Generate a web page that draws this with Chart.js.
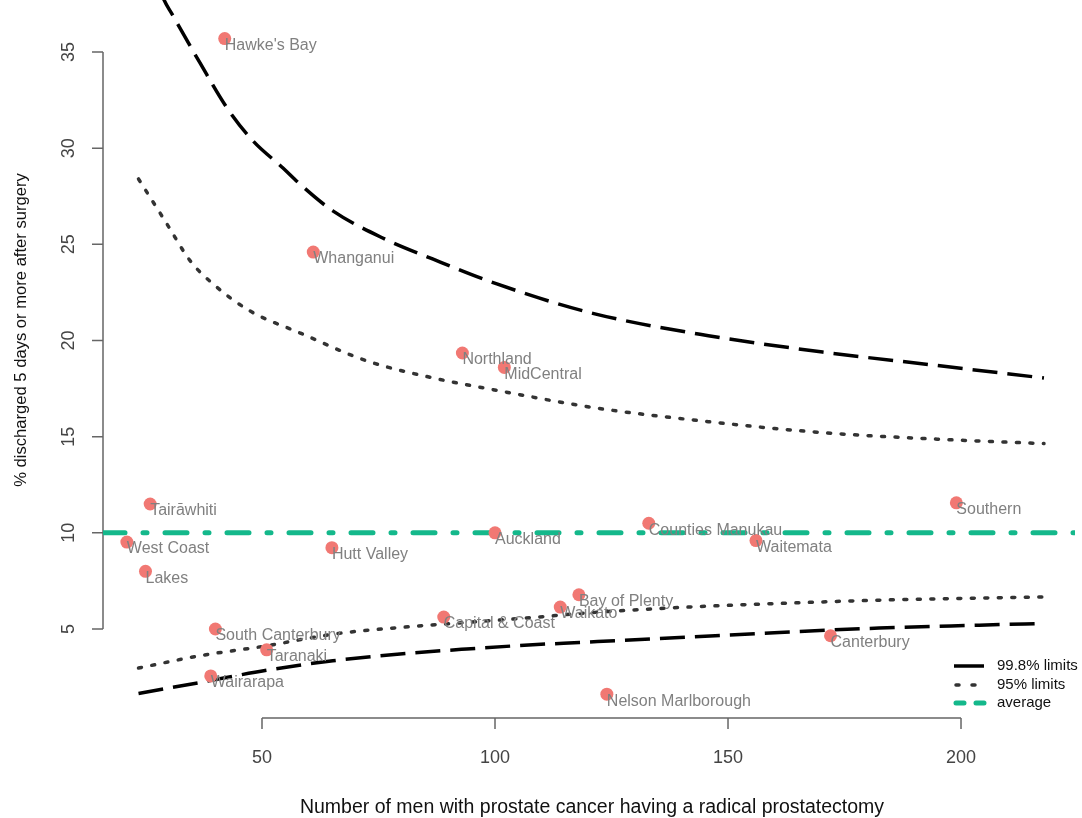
<!DOCTYPE html>
<html>
<head>
<meta charset="utf-8">
<script src="https://cdn.jsdelivr.net/npm/chart.js@4.4.0/dist/chart.umd.min.js"></script>
<style>
html,body{margin:0;padding:0;background:#ffffff;}
#wrap{width:1082px;height:818px;position:relative;}
</style>
</head>
<body>
<div id="wrap"><canvas id="c" width="1082" height="818"></canvas></div>
<script>
// ---- data ----
const regionNames = ["Hawke's Bay","Whanganui","Northland","MidCentral","Tairāwhiti","West Coast","Lakes","Hutt Valley","Auckland","Counties Manukau","Waitemata","Southern","Bay of Plenty","Waikato","Capital & Coast","South Canterbury","Taranaki","Wairarapa","Canterbury","Nelson Marlborough"];
const menCounts = [42, 61, 93, 102, 26, 21, 25, 65, 100, 133, 156, 199, 118, 114, 89, 40, 51, 39, 172, 124];
const pctDischarged = [35.7, 24.6, 19.35, 18.6, 11.5, 9.52, 8.0, 9.23, 10.0, 10.5, 9.6, 11.56, 6.78, 6.14, 5.62, 5.0, 3.92, 2.56, 4.65, 1.61];

const averagePct = 10;

const upper998X = [23.5, 29.0, 30.7, 36.7, 42.5, 48.1, 54.5, 58.1, 65.2, 75.9, 86.6, 100.4, 121.2, 145.8, 170.3, 194.9, 217.8];
const upper998Y = [41.5, 37.7, 36.97, 34.43, 32.09, 30.37, 28.97, 28.14, 26.74, 25.33, 24.24, 22.94, 21.4, 20.25, 19.4, 18.7, 18.05];

const upper95X = [23.5, 29.6, 34.6, 39.5, 47.4, 58.1, 72.5, 86.6, 101, 121.2, 145.8, 170.3, 194.9, 217.8];
const upper95Y = [28.4, 26.06, 24.14, 22.94, 21.54, 20.4, 18.94, 18.06, 17.38, 16.51, 15.78, 15.21, 14.87, 14.64];

const lower95X = [23.5, 36.7, 51.1, 65.2, 79.6, 93.9, 108.1, 120.0, 139.6, 161, 182.4, 203.9, 217.8];
const lower95Y = [2.97, 3.61, 4.13, 4.73, 5.08, 5.34, 5.60, 5.84, 6.12, 6.33, 6.50, 6.61, 6.67];

const lower998X = [23.5, 36.7, 51.1, 65.2, 79.6, 93.9, 108.1, 118.1, 139.6, 161, 182.4, 203.9, 217.8];
const lower998Y = [1.65, 2.22, 2.86, 3.35, 3.70, 3.96, 4.18, 4.30, 4.56, 4.82, 5.05, 5.20, 5.29];

const xTicks = [50, 100, 150, 200];
const yTicks = [5, 10, 15, 20, 25, 30, 35];

const xTitle = "Number of men with prostate cancer having a radical prostatectomy";
const yTitle = "% discharged 5 days or more after surgery";
const legendLabels = ["99.8% limits", "95% limits", "average"];

// ---- build ----
const X_MIN = 15.88, X_MAX = 224.46, Y_MIN = 0.373, Y_MAX = 37.704;
const zip = (xs, ys) => xs.map((x, i) => ({x: x, y: ys[i]}));

const DASH_998 = [25, 10];
const DASH_95 = [3, 10.5];
const DASH_AVG = [22, 18, 4, 18];

function lineDs(label, data, dash, width, color, cap) {
  return {
    type: 'line', label: label, data: data, showLine: true,
    borderColor: color, borderWidth: width, borderDash: dash,
    borderCapStyle: cap, pointRadius: 0, pointHoverRadius: 0, fill: false, tension: 0.4,
    cubicInterpolationMode: 'monotone', clip: 0, order: 2
  };
}

const datasets = [
  {
    type: 'scatter', label: 'regions',
    data: zip(menCounts, pctDischarged),
    pointRadius: 6.5, pointHoverRadius: 6.5, pointBackgroundColor: '#F17873', pointBorderWidth: 0,
    pointBorderColor: '#F17873', order: 0
  },
  lineDs('99.8% upper', zip(upper998X, upper998Y), DASH_998, 3.5, '#000000', 'butt'),
  lineDs('99.8% lower', zip(lower998X, lower998Y), DASH_998, 3.5, '#000000', 'butt'),
  lineDs('95% upper', zip(upper95X, upper95Y), DASH_95, 3.5, '#333333', 'round'),
  lineDs('95% lower', zip(lower95X, lower95Y), DASH_95, 3.5, '#333333', 'round'),
  lineDs('average', [{x: X_MIN, y: averagePct}, {x: X_MAX, y: averagePct}], DASH_AVG, 5, '#14B88B', 'round')
];

const FONT = 'Arial, "Liberation Sans", sans-serif';

const rAxes = {
  id: 'rAxes',
  beforeDatasetsDraw(chart) {
    const ctx = chart.ctx, xs = chart.scales.x, ys = chart.scales.y, ca = chart.chartArea;
    ctx.save();
    ctx.strokeStyle = '#666666';
    ctx.lineWidth = 1.5;
    // x axis
    const axY = ca.bottom;
    ctx.beginPath();
    ctx.moveTo(xs.getPixelForValue(xTicks[0]), axY);
    ctx.lineTo(xs.getPixelForValue(xTicks[xTicks.length - 1]), axY);
    xTicks.forEach(t => { const px = xs.getPixelForValue(t); ctx.moveTo(px, axY); ctx.lineTo(px, axY + 11); });
    ctx.stroke();
    // y axis
    const axX = ca.left;
    ctx.beginPath();
    ctx.moveTo(axX, ys.getPixelForValue(yTicks[0]));
    ctx.lineTo(axX, ys.getPixelForValue(yTicks[yTicks.length - 1]));
    yTicks.forEach(t => { const py = ys.getPixelForValue(t); ctx.moveTo(axX, py); ctx.lineTo(axX - 11, py); });
    ctx.stroke();
    // tick labels
    ctx.fillStyle = '#444444';
    ctx.font = '18px ' + FONT;
    ctx.textAlign = 'center';
    ctx.textBaseline = 'middle';
    xTicks.forEach(t => ctx.fillText(String(t), xs.getPixelForValue(t), 758));
    yTicks.forEach(t => {
      ctx.save();
      ctx.translate(69, ys.getPixelForValue(t));
      ctx.rotate(-Math.PI / 2);
      ctx.fillText(String(t), 0, 0);
      ctx.restore();
    });
    // titles
    ctx.fillStyle = '#111111';
    ctx.font = '19.5px ' + FONT;
    ctx.textBaseline = 'alphabetic';
    ctx.fillText(xTitle, 592, 813);
    ctx.save();
    ctx.font = '16.6px ' + FONT;
    ctx.translate(26, 330);
    ctx.rotate(-Math.PI / 2);
    ctx.textBaseline = 'alphabetic';
    ctx.fillText(yTitle, 0, 0);
    ctx.restore();
    ctx.restore();
  },
  afterDatasetsDraw(chart) {
    const ctx = chart.ctx;
    const meta = chart.getDatasetMeta(0);
    ctx.save();
    ctx.fillStyle = '#808080';
    ctx.font = '16px ' + FONT;
    ctx.textAlign = 'left';
    ctx.textBaseline = 'middle';
    meta.data.forEach((pt, i) => {
      ctx.fillText(regionNames[i], pt.x, pt.y + 7);
    });
    // legend
    const rows = [
      {w: 3.5, c: '#000000', cap: 'butt', dash: []},
      {w: 3.5, c: '#333333', cap: 'round', dash: [3, 13]},
      {w: 5, c: '#14B88B', cap: 'round', dash: [8, 12]}
    ];
    const rowY = [666, 685, 703];
    rows.forEach((r, i) => {
      ctx.beginPath();
      ctx.lineWidth = r.w;
      ctx.strokeStyle = r.c;
      ctx.lineCap = r.cap;
      ctx.setLineDash(r.dash);
      ctx.moveTo(i === 0 ? 954 : 956, rowY[i]);
      ctx.lineTo(984, rowY[i]);
      ctx.stroke();
    });
    ctx.setLineDash([]);
    ctx.fillStyle = '#111111';
    ctx.font = '15px ' + FONT;
    legendLabels.forEach((t, i) => ctx.fillText(t, 997, rowY[i]));
    ctx.restore();
  }
};

new Chart(document.getElementById('c'), {
  data: {datasets: datasets},
  options: {
    responsive: false,
    animation: false,
    devicePixelRatio: 1,
    layout: {autoPadding: false, padding: {left: 103, right: 7, top: 0, bottom: 100}},
    scales: {
      x: {type: 'linear', min: X_MIN, max: X_MAX, display: false},
      y: {type: 'linear', min: Y_MIN, max: Y_MAX, display: false}
    },
    plugins: {legend: {display: false}, tooltip: {enabled: false}}
  },
  plugins: [rAxes]
});
</script>
</body>
</html>
